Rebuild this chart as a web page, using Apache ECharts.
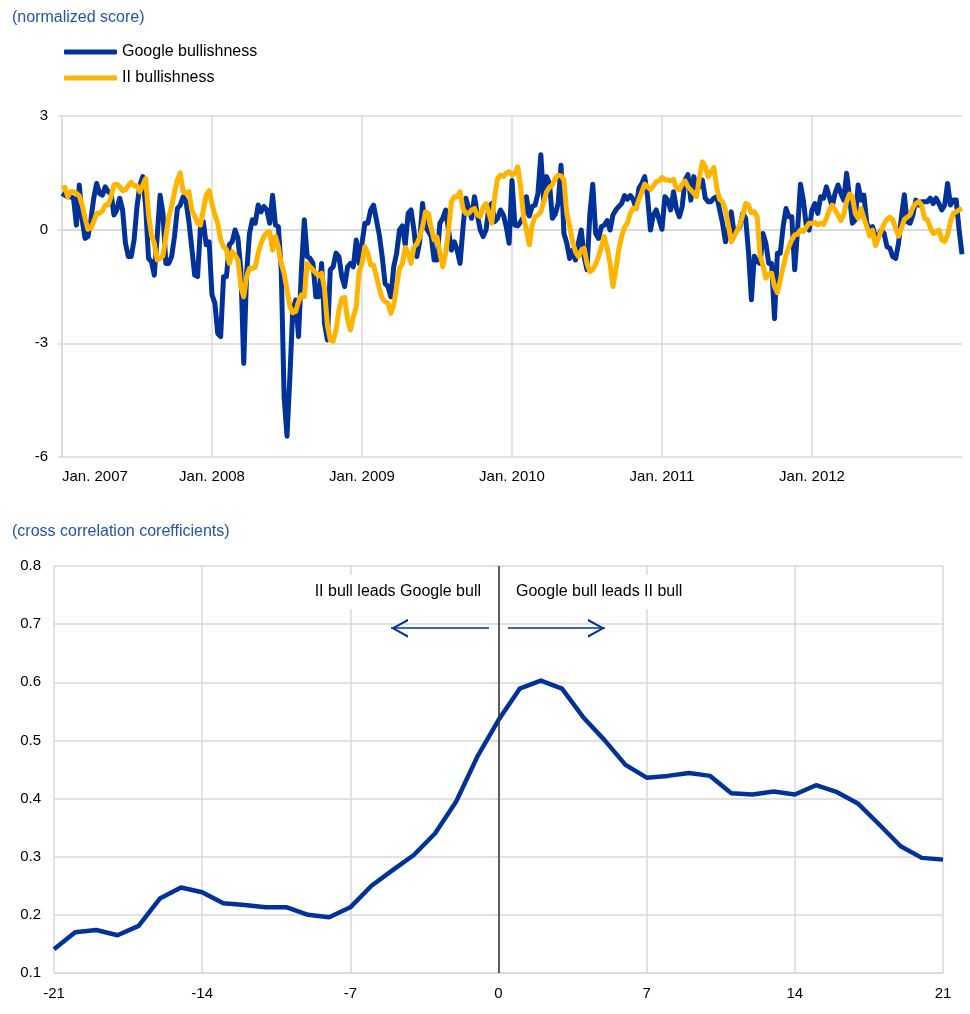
<!DOCTYPE html>
<html>
<head>
<meta charset="utf-8">
<script src="https://cdn.jsdelivr.net/npm/echarts@6/dist/echarts.min.js"></script>
<style>
  html, body { margin: 0; padding: 0; background: #fff; }
  #chart { width: 970px; height: 1014px; }
</style>
</head>
<body>
<div id="chart"></div>
<script>
  // weekly observations, Sunday 7 Jan 2007 to 30 Dec 2012
  const weeks = []
  for (let i = 0; i < 313; i++) {
    const d = new Date(Date.UTC(2007, 0, 7 + 7 * i))
    weeks.push(d.toISOString().slice(0, 10))
  }

  const googleBull = [
    0.96, 0.91, 0.87, 0.87, 0.83, 0.12, 1.18, 0.26, -0.23, -0.18,
    0.26, 0.83, 1.22, 0.96, 0.91, 1.13, 1.0, 0.96, 0.39, 0.52,
    0.83, 0.52, -0.36, -0.71, -0.71, -0.27, 0.61, 1.18, 1.4, 0.61,
    -0.76, -0.84, -1.2, -0.18, 0.91, 0.43, -0.89, -0.89, -0.71,
    -0.18, 0.56, 0.65, 0.87, 0.74, 0.21, -0.49, -1.2, -1.24, 0.08,
    0.21, -0.4, -0.32, -1.72, -1.94, -2.74, -2.82, -1.24, -1.24, -0.4,
    -0.32, -0.01, -0.23, -1.06, -3.53, -1.15, -0.1, 0.26, 0.17, 0.65,
    0.47, 0.61, 0.52, 0.17, 0.91, 0.12, 0.08, -1.06, -4.41, -5.45,
    -3.88, -2.12, -1.86, -2.82, -1.06, 0.26, -0.71, -0.76, -0.89, -1.77,
    -1.77, -0.89, -2.47, -2.91, -1.06, -0.98, -0.62, -0.71, -1.24, -1.5,
    -0.98, -0.89, -0.98, -0.27, -0.89, -0.36, 0.17, 0.17, 0.52, 0.65,
    0.26, -0.14, -0.71, -1.42, -1.5, -1.77, -0.98, -0.62, -0.01, 0.1,
    -0.4, 0.43, 0.52, -0.01, -0.71, -0.32, 0.69, 0.08, -0.05, -0.18,
    -0.8, -0.8, 0.17, 0.3, 0.52, -0.01, -0.54, -0.32, -0.54, -0.89,
    0.04, 0.83, 0.56, 0.3, 0.87, 0.39, -0.01, -0.18, -0.01, 0.61,
    0.69, 0.21, 0.3, 0.52, 0.39, 0.08, -0.36, 1.3, 0.12, 0.1,
    0.21, 0.34, 0.87, 0.36, 0.61, 0.65, 0.96, 1.98, 0.74, 1.4,
    1.22, 0.3, 0.41, 0.69, 1.7, -0.1, -0.36, -0.76, -0.54, -0.8,
    -0.36, -0.01, -0.71, -1.06, 0.43, 1.2, -0.1, -0.23, 0.08, 0.12,
    0.24, -0.01, 0.39, 0.52, 0.61, 0.69, 0.9, 0.8, 0.9, 0.8,
    0.56, 1.09, 1.22, 1.4, 0.87, -0.01, 0.39, 0.52, 0.26, 0.01,
    0.87, 0.78, 0.52, 1.0, 0.56, 0.34, 0.61, 1.31, 1.45, 0.78,
    1.4, 1.09, 1.13, 1.31, 0.83, 0.74, 0.74, 0.83, 0.87, 0.52,
    0.17, -0.32, -0.01, 0.47, -0.1, -0.01, 0.08, 0.43, 0.3,
    -0.6, -1.85, -0.7, -0.84, -0.89, -0.1, -0.36, -0.89, -0.89, -2.35,
    -0.62, -0.62, 0.08, 0.56, 0.34, 0.34, -1.06, -0.01, 1.2, 0.78,
    0.12, -0.01, 0.52, 0.69, 0.43, 0.87, 0.83, 1.13, 0.87, 0.61,
    0.96, 1.18, 0.96, 0.78, 1.49, 0.87, 0.17, 0.26, 1.18, 0.78,
    0.91, 0.17, -0.01, 0.08, -0.18, -0.18, -0.01, -0.1, -0.45, -0.49,
    -0.71, -0.76, -0.36, 0.34, 0.92, 0.21, 0.17, 0.39, 0.78, 0.65,
    0.74, 0.74, 0.74, 0.83, 0.69, 0.83, 0.69, 0.52, 0.65, 1.22,
    0.65, 0.78, 0.78, -0.01, -0.65
  ]

  const iiBull = [
    1.09, 1.12, 0.87, 1.0, 1.0, 0.96, 0.89, 0.65, 0.3, 0.01,
    0.04, 0.21, 0.43, 0.43, 0.49, 0.65, 0.65, 0.87, 1.18, 1.2,
    1.13, 1.03, 1.05, 1.16, 1.25, 1.15, 1.16, 1.0, 1.18, 1.35,
    0.4, -0.14, -0.36, -0.8, -0.76, -0.69, -0.18, 0.34, 0.61,
    1.0, 1.31, 1.5, 1.0, 0.96, 1.0, 0.52, 0.36, 0.17, 0.12,
    0.52, 0.91, 1.03, 0.69, 0.39, 0.17, -0.27, -0.45, -0.52, -0.89,
    -0.58, -0.67, -0.8, -1.5, -1.77, -1.24, -1.02, -1.02, -0.99, -0.62,
    -0.36, -0.18, -0.08, -0.05, -0.54, -0.18, -0.45, -0.89, -1.15, -1.59,
    -2.03, -2.19, -2.16, -1.9, -1.72, -1.77, -0.89, -0.98, -1.06, -1.15,
    -1.22, -1.15, -1.55, -2.52, -2.91, -2.94, -2.65, -2.12, -1.81, -1.79,
    -2.38, -2.65, -2.3, -2.03, -1.11, -0.89, -0.45, -0.62, -0.93, -0.93,
    -1.24, -1.55, -1.81, -1.9, -1.94, -2.21, -1.99, -1.5, -1.02, -0.9,
    -0.47, -0.62, -0.89, -0.45, -0.38, -0.2, 0.08, 0.47, 0.43, 0.04,
    -0.27, -0.2, -0.62, -0.98, -0.62, -0.01, 0.74, 0.87, 0.87, 1.0,
    0.56, 0.43, 0.43, 0.52, 0.56, 0.39, 0.34, 0.59, 0.69, 0.43,
    0.17, 0.87, 1.35, 1.44, 1.4, 1.49, 1.53, 1.44, 1.49, 1.66,
    1.13, 0.34, -0.01, -0.4, 0.12, 0.34, 0.39, 0.47, 0.74, 1.0,
    1.12, 1.18, 1.35, 1.44, 1.42, 1.31, 0.43, 0.08, -0.32, -0.58,
    -0.71, -0.55, -0.49, -0.89, -1.11, -1.05, -0.91, -0.71, -0.45, -0.18,
    -0.49, -0.89, -1.5, -1.06, -0.54, -0.18, 0.06, 0.17, 0.43, 0.56,
    0.56, 0.8, 1.0, 1.2, 1.13, 1.06, 1.15, 1.27, 1.29, 1.38,
    1.31, 1.31, 1.29, 1.33, 1.09, 1.05, 1.2, 1.29, 1.13, 1.05,
    0.96, 0.87, 1.4, 1.79, 1.66, 1.4, 1.53, 1.64, 1.09, 0.8,
    0.74, 0.52, 0.12, -0.32, -0.18, -0.03, 0.12, 0.39, 0.69,
    0.65, 0.45, 0.47, 0.34, -0.69, -0.93, -1.28, -1.17, -1.15, -1.5,
    -1.66, -1.33, -0.98, -0.67, -0.45, -0.27, -0.14, -0.12, -0.01, -0.05,
    0.06, 0.17, 0.17, 0.19, 0.13, 0.17, 0.14, 0.3, 0.52, 0.65,
    0.52, 0.39, 0.24, 0.39, 0.74, 0.94, 0.87, 0.43, 0.3, 0.56,
    0.3, 0.08, -0.17, -0.01, -0.42, -0.23, -0.03, 0.15, 0.27, 0.33,
    0.26, 0.04, -0.17, 0.04, 0.27, 0.33, 0.39, 0.59, 0.69, 0.74,
    0.65, 0.3, 0.26, 0.06, -0.1, -0.07, -0.01, -0.27, -0.31, -0.14,
    0.21, 0.43, 0.47, 0.52, 0.56
  ]

  const lags = [
    -21, -20, -19, -18, -17, -16, -15, -14, -13, -12, -11,
    -10, -9, -8, -7, -6, -5, -4, -3, -2, -1, 0,
    1, 2, 3, 4, 5, 6, 7, 8, 9, 10,
    11, 12, 13, 14, 15, 16, 17, 18, 19, 20, 21
  ]
  const crossCorr = [
    0.141, 0.170, 0.174, 0.165, 0.181, 0.228, 0.247, 0.239, 0.220, 0.217, 0.213,
    0.213, 0.200, 0.196, 0.213, 0.250, 0.277, 0.303, 0.340, 0.395, 0.472, 0.535,
    0.589, 0.603, 0.589, 0.540, 0.501, 0.458, 0.436, 0.439, 0.444, 0.439,
    0.409, 0.407, 0.412, 0.407, 0.423, 0.411, 0.391, 0.355, 0.318, 0.298, 0.295
  ]

  const blue = '#003299'
  const yellow = '#ffb400'
  const gridGrey = '#d9d9d9'
  const titleBlue = '#2453a6'
  const arrowHead = 'path://M0,20 L10,0 L20,20 L17.4,20 L10,4.6 L2.6,20 Z'

  const isYearStart = (idx) => idx === 0 || weeks[idx].slice(0, 4) !== weeks[idx - 1].slice(0, 4)

  const chart = echarts.init(document.getElementById('chart'))
  chart.setOption({
    animation: false,
    textStyle: { fontFamily: 'Liberation Sans, Arial, sans-serif' },
    title: [
      {
        text: '(normalized score)',
        left: 12, top: 10, padding: 0,
        textStyle: { color: titleBlue, fontSize: 16, fontWeight: 'normal' }
      },
      {
        text: '(cross correlation corefficients)',
        left: 12, top: 524, padding: 0,
        textStyle: { color: titleBlue, fontSize: 16, fontWeight: 'normal' }
      }
    ],
    legend: {
      data: ['Google bullishness', 'II bullishness'],
      orient: 'vertical',
      left: 64, top: 44, padding: 0,
      icon: 'roundRect',
      itemWidth: 53, itemHeight: 5, itemGap: 10,
      textStyle: { fontSize: 16, color: '#000' }
    },
    grid: [
      { left: 62, right: 8, top: 116, height: 341 },
      { left: 54, right: 27, top: 566, height: 407 }
    ],
    xAxis: [
      {
        gridIndex: 0,
        type: 'category',
        data: weeks,
        boundaryGap: false,
        axisLine: { lineStyle: { color: gridGrey, width: 1.5 } },
        axisTick: { show: false },
        axisLabel: {
          interval: isYearStart,
          formatter: (v) => 'Jan. ' + v.slice(0, 4),
          color: '#000', fontSize: 15, margin: 12,
          alignMinLabel: 'left'
        },
        splitLine: { show: true, interval: isYearStart, lineStyle: { color: gridGrey, width: 1.5 } }
      },
      {
        gridIndex: 1,
        type: 'value',
        min: -21, max: 21, interval: 7,
        axisLine: { lineStyle: { color: gridGrey, width: 1.5 } },
        axisTick: { show: false },
        axisLabel: { color: '#000', fontSize: 15, margin: 13 },
        splitLine: { show: true, lineStyle: { color: gridGrey, width: 1.5 } }
      }
    ],
    yAxis: [
      {
        gridIndex: 0,
        type: 'value',
        min: -6, max: 3, interval: 3,
        axisLine: { show: true, lineStyle: { color: gridGrey, width: 1.5 } },
        axisTick: { show: true, length: 4, lineStyle: { color: gridGrey, width: 1.5 } },
        axisLabel: { color: '#000', fontSize: 15, margin: 14 },
        splitLine: { lineStyle: { color: gridGrey, width: 1.5 } }
      },
      {
        gridIndex: 1,
        type: 'value',
        min: 0.1, max: 0.8, interval: 0.1,
        axisLine: { show: true, lineStyle: { color: gridGrey, width: 1.5 } },
        axisTick: { show: true, length: 4, lineStyle: { color: gridGrey, width: 1.5 } },
        axisLabel: { color: '#000', fontSize: 15, margin: 13, formatter: (v) => v.toFixed(1) },
        splitLine: { lineStyle: { color: gridGrey, width: 1.5 } }
      }
    ],
    series: [
      {
        name: 'Google bullishness',
        type: 'line',
        xAxisIndex: 0, yAxisIndex: 0,
        data: googleBull,
        symbol: 'none',
        itemStyle: { color: blue },
        lineStyle: { color: blue, width: 5, join: 'round' }
      },
      {
        name: 'II bullishness',
        type: 'line',
        xAxisIndex: 0, yAxisIndex: 0,
        data: iiBull,
        symbol: 'none',
        itemStyle: { color: yellow },
        lineStyle: { color: yellow, width: 5, join: 'round' }
      },
      {
        name: 'cross correlation',
        type: 'line',
        xAxisIndex: 1, yAxisIndex: 1,
        data: lags.map((l, i) => [l, crossCorr[i]]),
        symbol: 'none',
        itemStyle: { color: blue },
        lineStyle: { color: blue, width: 4.5, join: 'round' },
        markLine: {
          silent: true,
          animation: false,
          symbol: ['none', 'none'],
          label: { show: false },
          emphasis: { disabled: true },
          lineStyle: { color: '#333', width: 1.5, type: 'solid' },
          data: [
            { xAxis: 0 },
            [
              { coord: [-0.45, 0.693], lineStyle: { color: blue, width: 1.5, type: 'solid' } },
              { coord: [-5.08, 0.693], symbol: arrowHead, symbolSize: [19, 17], symbolOffset: [0, 8.5],
                lineStyle: { color: blue, width: 1.5, type: 'solid' } }
            ],
            [
              { coord: [0.45, 0.693], lineStyle: { color: blue, width: 1.5, type: 'solid' } },
              { coord: [5.03, 0.693], symbol: arrowHead, symbolSize: [19, 17], symbolOffset: [0, 8.5],
                lineStyle: { color: blue, width: 1.5, type: 'solid' } }
            ]
          ]
        }
      }
    ],
    graphic: [
      {
        type: 'text', x: 484, y: 592, z: 50,
        style: {
          text: 'II bull leads Google bull', align: 'right', verticalAlign: 'middle',
          font: '16px Liberation Sans, Arial, sans-serif', fill: '#000',
          backgroundColor: '#fff', padding: [9, 3]
        }
      },
      {
        type: 'text', x: 513, y: 592, z: 50,
        style: {
          text: 'Google bull leads II bull', align: 'left', verticalAlign: 'middle',
          font: '16px Liberation Sans, Arial, sans-serif', fill: '#000',
          backgroundColor: '#fff', padding: [9, 3]
        }
      }
    ]
  })
</script>
</body>
</html>
